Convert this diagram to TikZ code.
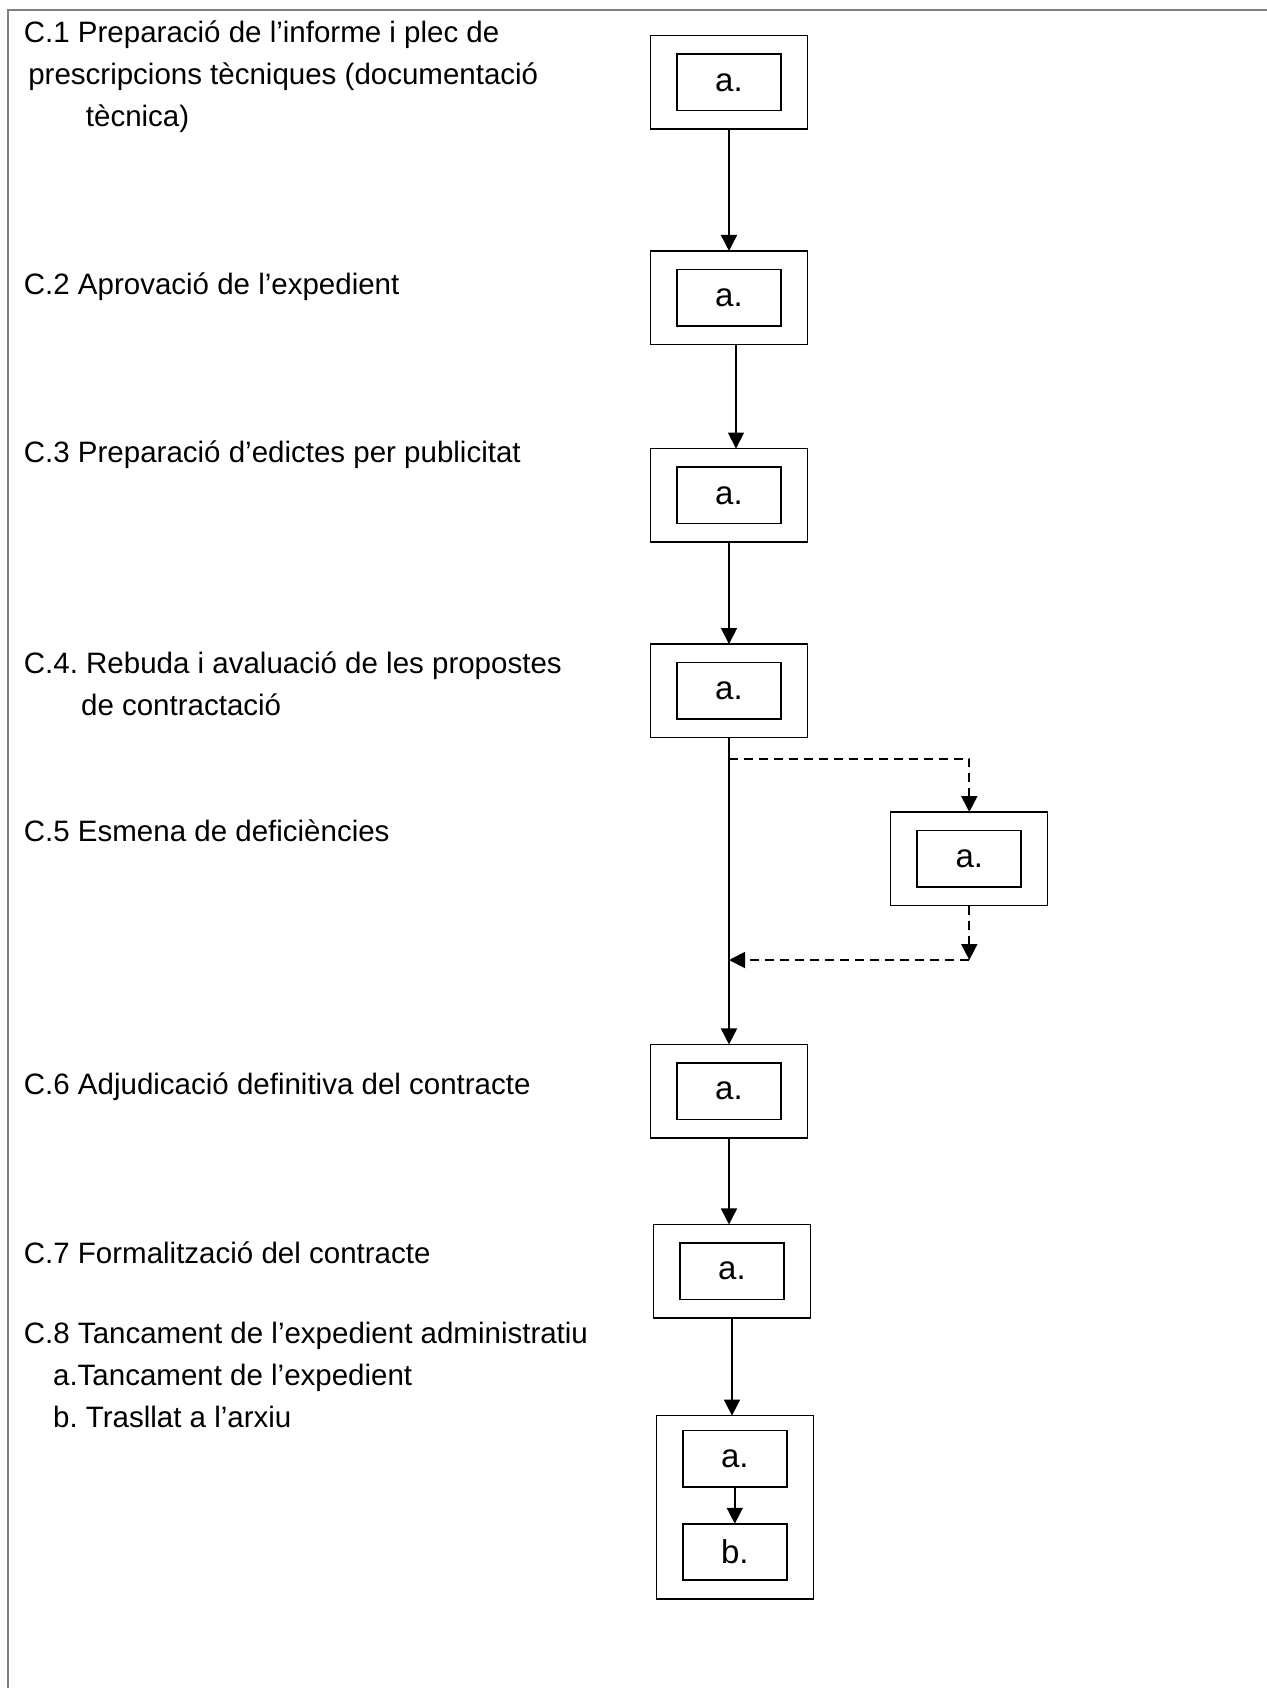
\documentclass[tikz,border=0pt]{standalone}
\usepackage{fontspec}
\setmainfont{Liberation Sans}
\usetikzlibrary{arrows.meta}
\frenchspacing

\begin{document}
\begin{tikzpicture}[x=0.5pt,y=-0.5pt,
  font=\fontsize{14.75}{20.8}\selectfont,
  outerbox/.style={draw,line width=0.6pt,minimum width=78.5pt,minimum height=46.75pt,inner sep=0pt,outer sep=0pt},
  innerbox/.style={draw,line width=0.9pt,minimum width=52pt,minimum height=28.25pt,inner sep=0pt,outer sep=0pt,font=\fontsize{16.5}{20}\selectfont},
  steptext/.style={anchor=base west,inner sep=0pt,align=left},
  flow/.style={line width=0.8pt,-{Triangle[length=8pt,width=8pt]}},
  dashflow/.style={flow,line width=0.9pt,dash pattern=on 4.5pt off 3pt}]
\useasboundingbox (0,0) rectangle (1267,1688);
\draw[gray,line width=1pt] (8,1688) -- (8,10) -- (1267,10);

% step labels (base = last line)
\node[steptext] (c1) at (23.5,126) {C.1 Preparació de l’informe i plec de\\\hspace*{2.2pt}prescripcions tècniques (documentació\\\hspace*{31pt}tècnica)};
\node[steptext] (c2) at (23.5,294) {C.2 Aprovació de l’expedient};
\node[steptext] (c3) at (23.5,462) {C.3 Preparació d’edictes per publicitat};
\node[steptext] (c4) at (23.5,715) {C.4. Rebuda i avaluació de les propostes\\\hspace*{28.6pt}de contractació};
\node[steptext] (c5) at (23.5,841) {C.5 Esmena de deficiències};
\node[steptext] (c6) at (23.5,1094) {C.6 Adjudicació definitiva del contracte};
\node[steptext] (c7) at (23.5,1263) {C.7 Formalització del contracte};
\node[steptext] (c8) at (23.5,1427) {C.8 Tancament de l’expedient administratiu\\\hspace*{14.6pt}a.Tancament de l’expedient\\\hspace*{14.6pt}b. Trasllat a l’arxiu};

% boxes
\node[outerbox] (b1) at (729,82.3) {};
\node[innerbox] (b1a) at (b1) {a.};
\node[outerbox] (b2) at (729,297.7) {};
\node[innerbox] (b2a) at (b2) {a.};
\node[outerbox] (b3) at (729,495.3) {};
\node[innerbox] (b3a) at (b3) {a.};
\node[outerbox] (b4) at (729,690.8) {};
\node[innerbox] (b4a) at (b4) {a.};
\node[outerbox] (b5) at (969.3,858.8) {};
\node[innerbox] (b5a) at (b5) {a.};
\node[outerbox] (b6) at (729,1091.2) {};
\node[innerbox] (b6a) at (b6) {a.};
\node[outerbox] (b7) at (732,1271.2) {};
\node[innerbox] (b7a) at (b7) {a.};
\node[outerbox,minimum height=91.7pt] (b8) at (734.8,1507.3) {};
\node[innerbox] (b8a) at (734.8,1458.7) {a.};
\node[innerbox] (b8b) at (734.8,1552) {b.};

% deficiencies loop
\coordinate (fork) at (729,758.7);
\coordinate (back) at (969.3,960);
\coordinate (join) at (729,960);
\draw[dashflow] (fork) -| (b5.north);
\draw[dashflow] (b5.south) -- (back);
\draw[dashflow] (back) -- (join);

% main flow
\draw[flow] (b1) -- (b2);
\draw[flow] ([xshift=3.5pt]b2.south) -- ([xshift=3.5pt]b3.north);
\draw[flow] (b3) -- (b4);
\draw[flow] (b4) -- (b6);
\draw[flow] (b6.south) -- (b6.south |- b7.north);
\draw[flow] (b7.south) -- (b7.south |- b8.north);
\draw[flow] (b8a) -- (b8b);
\end{tikzpicture}
\end{document}
